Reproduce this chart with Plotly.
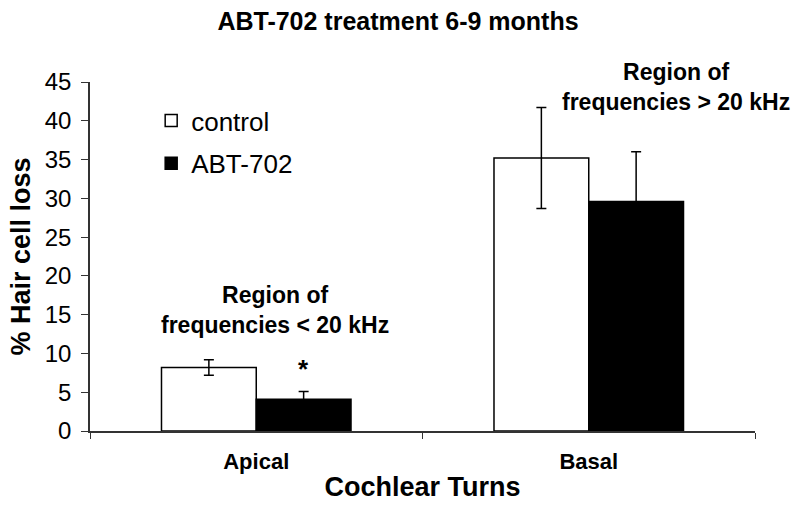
import plotly.graph_objects as go

categories = ["Apical", "Basal"]
control_vals = [8.2, 35.2]
control_err = [1.0, 6.5]
abt_vals = [4.1, 29.6]
abt_err = [1.0, 6.4]
series_names = ["control", "ABT-702"]
y_ticks = [0, 5, 10, 15, 20, 25, 30, 35, 40, 45]

FONT = "Liberation Sans, Arial, sans-serif"

fig = go.Figure()
fig.add_trace(go.Bar(
    x=categories, y=control_vals, name=series_names[0], legendgroup="a",
    marker=dict(color="white", line=dict(color="black", width=1.5)),
    error_y=dict(type="data", array=control_err, visible=True, color="black", thickness=1.5, width=5),
))
fig.add_trace(go.Bar(
    x=categories, y=abt_vals, name=series_names[1], legendgroup="b",
    marker=dict(color="black", line=dict(color="black", width=1.5)),
    error_y=dict(type="data", array=abt_err, visible=True, color="black", thickness=1.5, width=5),
))

fig.add_annotation(x=0.055, y=15.6, xref="x", yref="y",
                   text="Region of<br>frequencies < 20 kHz", showarrow=False,
                   font=dict(family=FONT, size=23, color="black", weight="bold"))
fig.add_annotation(x=1.262, y=44.3, xref="x", yref="y",
                   text="Region of<br>frequencies > 20 kHz", showarrow=False,
                   font=dict(family=FONT, size=23, color="black", weight="bold"))
fig.add_annotation(x=0.143, y=8.0, xref="x", yref="y", text="*", showarrow=False,
                   font=dict(family=FONT, size=26, color="black", weight="bold"))

fig.update_layout(
    width=800, height=507, autosize=False,
    paper_bgcolor="white", plot_bgcolor="white",
    margin=dict(l=90, r=45, t=82, b=76, autoexpand=False),
    barmode="group", bargap=0.43, bargroupgap=0,
    font=dict(family=FONT, color="black"),
    title=dict(text="ABT-702 treatment 6-9 months", x=0.4975, xanchor="center", y=0.975, yanchor="top",
               font=dict(family=FONT, size=25, color="black", weight="bold")),
    legend=dict(x=0.092, y=0.957, xanchor="left", yanchor="top", tracegroupgap=6,
                font=dict(family=FONT, size=26, color="black"), bgcolor="rgba(0,0,0,0)"),
    xaxis=dict(type="category", range=[-0.5, 1.5], tickson="boundaries", ticks="outside", ticklen=6, tickcolor="#333",
               showline=True, linecolor="#333", linewidth=1.5, automargin=False, ticklabelstandoff=10,
               tickfont=dict(family=FONT, size=22, color="black", weight="bold"),
               title=dict(text="Cochlear Turns", font=dict(family=FONT, size=27, color="black", weight="bold"), standoff=4)),
    yaxis=dict(range=[0, 45], tickvals=y_ticks, ticks="outside", ticklen=7, tickcolor="#333",
               showline=True, linecolor="#333", linewidth=1.5, showgrid=False, zeroline=False, automargin=False,
               ticklabelstandoff=5,
               tickfont=dict(family=FONT, size=24, color="black"),
               title=dict(text="% Hair cell loss", font=dict(family=FONT, size=27, color="black", weight="bold"), standoff=6)),
)

fig.write_html("out.html", config={"displayModeBar": False},
               post_script="document.body.style.margin='0';document.body.style.overflow='hidden';")
